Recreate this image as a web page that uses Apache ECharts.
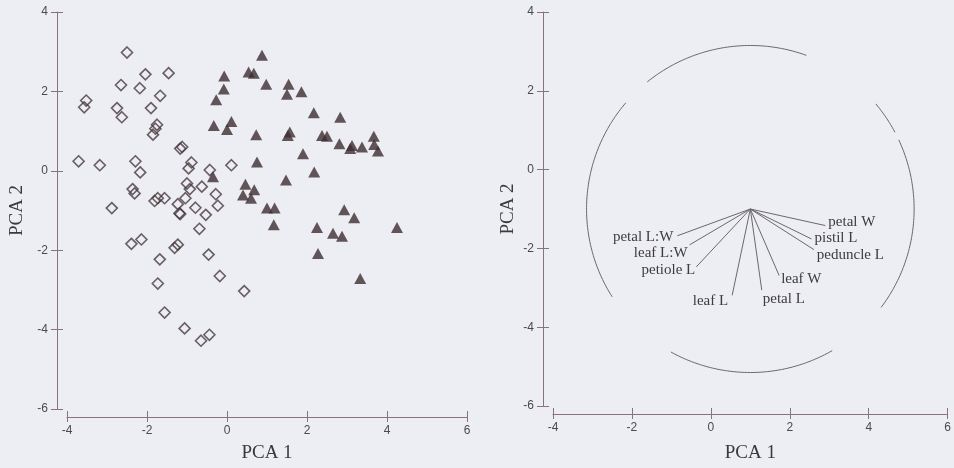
<!DOCTYPE html>
<html>
<head>
<meta charset="utf-8">
<script src="https://cdn.jsdelivr.net/npm/echarts@6/dist/echarts.min.js"></script>
<style>
  html, body { margin: 0; padding: 0; background: #eceef3; }
  #chart { width: 954px; height: 468px; }
</style>
</head>
<body>
<div id="chart"></div>
<script>
// left panel: scores, two groups
const groupAX = [-2.5, -2.04, -1.46, -2.65, -2.18, -1.67, -3.52, -3.57, -2.75, -2.63, -1.9, -1.75, -1.79, -1.85, -1.17, -1.12, -3.71, -3.18, -2.29, -2.17, -0.89, -0.96, -0.43, 0.11, -2.36, -2.31, -2.88, -1.81, -1.73, -1.56, -1.0, -0.93, -0.63, -0.28, -1.04, -1.23, -1.19, -1.17, -0.79, -0.53, -0.23, -0.69, -2.39, -2.14, -1.23, -1.31, -1.68, -0.46, -0.18, -1.73, 0.43, -1.56, -1.06, -0.65, -0.44]
const groupAY = [2.98, 2.43, 2.46, 2.16, 2.08, 1.89, 1.77, 1.6, 1.58, 1.35, 1.58, 1.16, 1.06, 0.91, 0.56, 0.6, 0.24, 0.14, 0.24, -0.04, 0.21, 0.06, 0.02, 0.14, -0.46, -0.57, -0.94, -0.76, -0.69, -0.69, -0.32, -0.46, -0.4, -0.59, -0.69, -0.84, -1.07, -1.09, -0.93, -1.11, -0.88, -1.46, -1.84, -1.73, -1.86, -1.94, -2.23, -2.11, -2.65, -2.84, -3.03, -3.57, -3.97, -4.28, -4.13]
const groupBX = [0.875, -0.07, 0.54, 0.67, -0.08, -0.27, 0.98, 1.54, 1.5, 1.86, -0.33, 0.11, 0, 0.73, 1.57, 1.52, 2.17, 2.83, 2.375, 2.5, 2.81, 3.125, 3.08, 3.375, 3.67, 3.68, 3.775, 1.9, 0.75, -0.35, 2.18, 1.475, 0.46, 0.68, 0.4, 0.6, 1.0, 1.19, 1.17, 2.93, 3.18, 2.25, 2.65, 2.875, 4.25, 2.275, 3.33]
const groupBY = [2.91, 2.39, 2.49, 2.46, 2.06, 1.79, 2.18, 2.18, 1.93, 1.99, 1.14, 1.24, 1.04, 0.91, 0.98, 0.89, 1.46, 1.35, 0.89, 0.87, 0.68, 0.64, 0.56, 0.6, 0.87, 0.66, 0.5, 0.43, 0.22, -0.15, -0.03, -0.23, -0.34, -0.48, -0.61, -0.69, -0.94, -0.94, -1.36, -0.98, -1.18, -1.43, -1.57, -1.65, -1.43, -2.08, -2.71]

// right panel: loading vectors drawn from a common origin, plus the circle
const variables = ['petal W', 'pistil L', 'peduncle L', 'leaf W', 'petal L', 'leaf L', 'petiole L', 'leaf L:W', 'petal L:W']
const vectorX = [2.9, 2.55, 2.61, 1.73, 1.29, 0.54, -0.37, -0.54, -0.85]
const vectorY = [-1.42, -1.76, -2.03, -2.69, -3.06, -3.19, -2.47, -1.91, -1.68]
const vectorOrigin = [1, -1]
const circle = [1, -1, 4.15] // center x, center y, radius

const xTicks = [-4, 6, 2] // min, max, step
const yTicks = [-6, 4, 2]

// label placement next to each vector tip: [align, dx, dy]
const labelPlace = {
  'petal W': ['left', 3, -3],
  'pistil L': ['left', 3, -1],
  'peduncle L': ['left', 3, 5],
  'leaf W': ['left', 2, 3],
  'petal L': ['left', 1, 9],
  'leaf L': ['right', -4, 6],
  'petiole L': ['right', -1, 3],
  'leaf L:W': ['right', -2, 8],
  'petal L:W': ['right', -4, 1]
}
// visible pieces of the (broken) circle, degrees
const circleArcs = [[-37, 25], [28, 40.5], [70, 129], [139.5, 212.5], [241, 300]]

const axisColor = '#8a7378'
const labelColor = '#4a4a4a'
const inkColor = '#3d2d31'
const lineGray = '#6e676a'
const serif = '"Liberation Serif", "DejaVu Serif", serif'

function xAxisPair (gridIndex, offset, nameGap) {
  const base = {
    gridIndex: gridIndex,
    type: 'value',
    position: 'bottom',
    min: xTicks[0],
    max: xTicks[1],
    interval: xTicks[2],
    offset: offset,
    splitLine: { show: false }
  }
  return [
    Object.assign({}, base, {
      name: 'PCA 1',
      nameLocation: 'middle',
      nameGap: nameGap,
      nameTextStyle: { fontFamily: serif, fontSize: 19, color: '#3a3a3a' },
      axisLine: { onZero: false, lineStyle: { color: axisColor, width: 1 } },
      axisTick: { length: 5, lineStyle: { color: axisColor } },
      axisLabel: { color: labelColor, fontSize: 12, fontFamily: 'Liberation Sans', margin: 8 }
    }),
    Object.assign({}, base, {
      axisLine: { show: false, onZero: false },
      axisTick: { inside: true, length: 6, lineStyle: { color: axisColor } },
      axisLabel: { show: false }
    })
  ]
}

function yAxisPair (gridIndex, offset, nameGap) {
  const base = {
    gridIndex: gridIndex,
    type: 'value',
    position: 'left',
    min: yTicks[0],
    max: yTicks[1],
    interval: yTicks[2],
    offset: offset,
    splitLine: { show: false }
  }
  return [
    Object.assign({}, base, {
      name: 'PCA 2',
      nameLocation: 'middle',
      nameGap: nameGap,
      nameTextStyle: { fontFamily: serif, fontSize: 19, color: '#3a3a3a' },
      axisLine: { onZero: false, lineStyle: { color: axisColor, width: 1 } },
      axisTick: { length: 6, lineStyle: { color: axisColor } },
      axisLabel: { color: labelColor, fontSize: 12, fontFamily: 'Liberation Sans', margin: 9 }
    }),
    Object.assign({}, base, {
      axisLine: { show: false, onZero: false },
      axisTick: { inside: true, length: 6, lineStyle: { color: axisColor } },
      axisLabel: { show: false }
    })
  ]
}

const option = {
  backgroundColor: '#eceef3',
  animation: false,
  grid: [
    { left: 67, top: 12, width: 400, height: 400 },
    { left: 553, top: 12, width: 398, height: 396 }
  ],
  xAxis: xAxisPair(0, 8, 27).concat(xAxisPair(1, 8, 30)),
  yAxis: yAxisPair(0, 10, 30).concat(yAxisPair(1, 10, 25)),
  series: [
    {
      type: 'scatter',
      xAxisIndex: 0,
      yAxisIndex: 0,
      symbol: 'diamond',
      symbolSize: [11, 11],
      itemStyle: { color: 'transparent', borderColor: '#4a3a3e', borderWidth: 1.6 },
      data: groupAX.map((x, i) => [x, groupAY[i]])
    },
    {
      type: 'scatter',
      xAxisIndex: 0,
      yAxisIndex: 0,
      symbol: 'triangle',
      symbolSize: [12, 11],
      itemStyle: { color: inkColor },
      data: groupBX.map((x, i) => [x, groupBY[i]])
    },
    {
      type: 'custom',
      xAxisIndex: 2,
      yAxisIndex: 2,
      silent: true,
      data: [circle],
      renderItem: function (params, api) {
        const c = api.coord([api.value(0), api.value(1)])
        const s = api.size([api.value(2), api.value(2)])
        return {
          type: 'group',
          children: circleArcs.map(function (arc) {
            const pts = []
            for (let a = arc[0]; a <= arc[1] + 0.01; a += 1) {
              const t = a * Math.PI / 180
              pts.push([c[0] + s[0] * Math.cos(t), c[1] - s[1] * Math.sin(t)])
            }
            return {
              type: 'polyline',
              shape: { points: pts },
              style: { stroke: lineGray, lineWidth: 1, fill: null }
            }
          })
        }
      }
    },
    {
      type: 'custom',
      xAxisIndex: 2,
      yAxisIndex: 2,
      silent: true,
      data: variables.map((n, i) => [vectorX[i], vectorY[i], i]),
      renderItem: function (params, api) {
        const o = api.coord(vectorOrigin)
        const e = api.coord([api.value(0), api.value(1)])
        const name = variables[api.value(2)]
        const p = labelPlace[name]
        return {
          type: 'group',
          children: [
            {
              type: 'line',
              shape: { x1: o[0], y1: o[1], x2: e[0], y2: e[1] },
              style: { stroke: lineGray, lineWidth: 1 }
            },
            {
              type: 'text',
              style: {
                text: name,
                x: e[0] + p[1],
                y: e[1] + p[2],
                align: p[0],
                verticalAlign: 'middle',
                font: '15px ' + serif,
                fill: '#403a3c'
              }
            }
          ]
        }
      }
    }
  ]
}

const myChart = echarts.init(document.getElementById('chart'))
myChart.setOption(option)
</script>
</body>
</html>
